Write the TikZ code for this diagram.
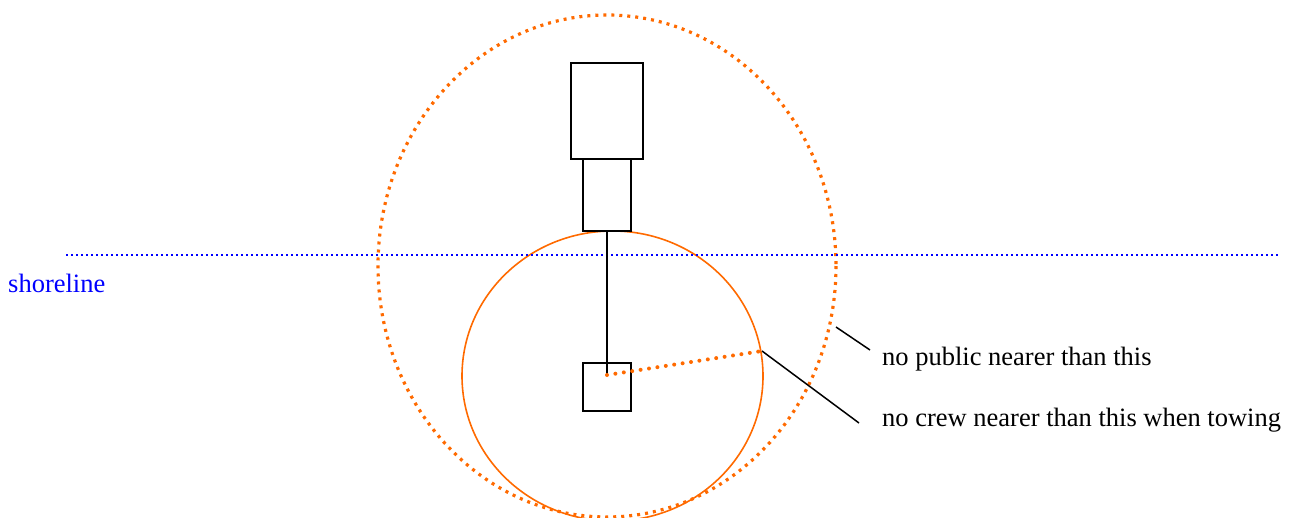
\documentclass[tikz,border=0pt]{standalone}
\usepackage{fontspec}
\setmainfont{Liberation Serif}
\definecolor{org}{HTML}{FF6A00}
\begin{document}
\begin{tikzpicture}[x=1pt,y=-1pt,
  box/.style={draw=black,line width=1.5pt,minimum width=#1,inner sep=0pt,outer sep=0pt},
  lbl/.style={anchor=base west,inner sep=0pt,font=\fontsize{26.5}{30}\selectfont},
  ptr/.style={draw=black,line width=1.5pt},
  bigring/.style={draw=org,line width=3.2pt,dash pattern=on 3pt off 5pt},
  smallring/.style={draw=org,line width=1.6pt},
  radius/.style={draw=org,line width=4pt,line cap=round,dash pattern=on 0pt off 8.5pt},
  shore/.style={draw=blue,line width=2pt,dash pattern=on 2pt off 3pt}]
\useasboundingbox (0,0) rectangle (1296,517);
\begin{scope}
\clip (0,0) rectangle (1296,517);
\draw[bigring] (607,266) ellipse [x radius=229, y radius=251];
\draw[smallring] (612.5,376) ellipse [x radius=150.5, y radius=145];
\end{scope}
\draw[shore] (66,255) -- (1278,255);
\node[lbl,text=blue] (sl) at (8,292) {shoreline};
\node[box=72pt,minimum height=96pt] (r1) at (607,111) {};
\node[box=48pt,minimum height=72pt] (r2) at (607,195) {};
\node[box=48pt,minimum height=48pt] (r3) at (607,387) {};
\coordinate (c) at (607,375);
\coordinate (e) at (762,351);
\draw[ptr] (r2.south) -- (c);
\draw[radius] (c) -- (e);
\node[lbl] (t1) at (882,365) {no public nearer than this};
\node[lbl] (t2) at (882,426) {no crew nearer than this when towing};
\coordinate (p1) at (836,327);
\coordinate (p2) at (870,350);
\draw[ptr] (p1) -- (p2);
\coordinate (q2) at (859,423);
\draw[ptr] (e) -- (q2);
\end{tikzpicture}
\end{document}
